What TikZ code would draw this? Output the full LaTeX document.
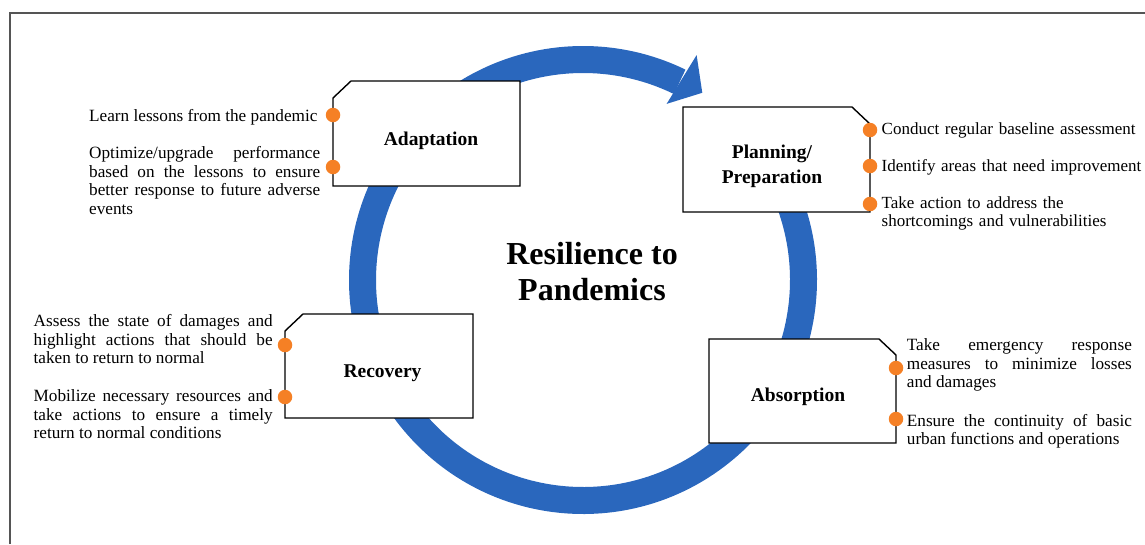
\documentclass[tikz,border=0pt]{standalone}
\usepackage{fontspec}
\setmainfont{Liberation Serif}
\usetikzlibrary{positioning}

\definecolor{ringblue}{RGB}{42,103,189}
\definecolor{dotorange}{RGB}{245,128,37}
\definecolor{framegray}{RGB}{85,85,85}

\begin{document}
\begin{tikzpicture}[x=1pt,y=1pt,
    stagebox/.style={draw=black,line width=1.4pt,fill=white},
    stagelabel/.style={inner sep=0pt,align=center,font=\fontsize{19.5}{25}\selectfont\bfseries},
    stagedot/.style={circle,fill=dotorange,minimum size=14.5pt,inner sep=0pt},
    stagenote/.style={inner sep=0pt,anchor=base west,align=justify,font=\fontsize{17.2}{18.5}\selectfont},
    plannote/.style={stagenote,text width=263pt,align=left,font=\fontsize{17}{18.5}\selectfont},
    headline/.style={inner sep=0pt,align=center,font=\fontsize{32}{36}\selectfont\bfseries}]

  \useasboundingbox (0,0) rectangle (1145,-544);

  % Outer frame, only top and left edge visible
  \draw[framegray,line width=2pt] (10,-544) -- (10,-13) -- (1145,-13);

  % Circular arrow
  \begin{scope}[shift={(583,-280)}]
    \draw[ringblue,line width=27pt] (40:220.5) arc[start angle=40,end angle=-296,radius=220.5];
    \fill[ringblue] (63.2:252) -- (57.5:222) -- (64.6:195) -- cycle;
  \end{scope}

  \node[headline] (title) at (592,-272) {Resilience to\\Pandemics};

  % Adaptation
  \draw[stagebox] (333,-98) -- (351,-81) -- (520,-81) -- (520,-186) -- (333,-186) -- cycle;
  \node[stagelabel,anchor=base] (adapt) at (431,-145) {Adaptation};
  \node[stagedot] (adapt1) at (333,-115) {};
  \node[stagedot] (adapt2) at (333,-167) {};
  \node[stagenote,text width=231pt] (adaptnote1) at (89,-121.5) {Learn lessons from the pandemic};
  \node[stagenote,text width=231pt] (adaptnote2) at (89,-158.5) {Optimize/upgrade performance\linebreak
    based on the lessons to ensure\linebreak better response to future adverse\linebreak events};

  % Planning/Preparation
  \draw[stagebox] (683,-107) -- (852,-107) -- (870,-124) -- (870,-212) -- (683,-212) -- cycle;
  \node[stagelabel] (plan) at (772,-166.5) {Planning/\\Preparation};
  \node[stagedot] (plan1) at (870,-130) {};
  \node[stagedot] (plan2) at (870,-166) {};
  \node[stagedot] (plan3) at (870,-204) {};
  \node[plannote] (plannote1) at (881.5,-134.3) {Conduct regular baseline assessment};
  \node[plannote] (plannote2) at (881.5,-171) {Identify areas that need improvement};
  \node[plannote] (plannote3) at (881.5,-208.3) {Take action to address the\\
    shortcomings and vulnerabilities};

  % Recovery
  \draw[stagebox] (285,-331) -- (303,-314) -- (473,-314) -- (473,-418) -- (285,-418) -- cycle;
  \node[stagelabel,anchor=base] (recover) at (382.5,-377) {Recovery};
  \node[stagedot] (recover1) at (285,-345) {};
  \node[stagedot] (recover2) at (285,-397) {};
  \node[stagenote,text width=239pt] (recovernote1) at (33.5,-326.7) {Assess the state of damages and\linebreak
    highlight actions that should be\linebreak taken to return to normal};
  \node[stagenote,text width=239pt] (recovernote2) at (33.5,-401.7) {Mobilize necessary resources and\linebreak
    take actions to ensure a timely\linebreak return to normal conditions};

  % Absorption
  \draw[stagebox] (709,-339) -- (879,-339) -- (896,-355) -- (896,-443) -- (709,-443) -- cycle;
  \node[stagelabel,anchor=base] (absorb) at (798,-401.7) {Absorption};
  \node[stagedot] (absorb1) at (896,-368) {};
  \node[stagedot] (absorb2) at (896,-419) {};
  \node[stagenote,text width=225pt] (absorbnote1) at (906.7,-350.7) {Take emergency response\linebreak
    measures to minimize losses\linebreak and damages};
  \node[stagenote,text width=225pt] (absorbnote2) at (906.7,-426) {Ensure the continuity of basic\linebreak
    urban functions and operations};

\end{tikzpicture}
\end{document}
